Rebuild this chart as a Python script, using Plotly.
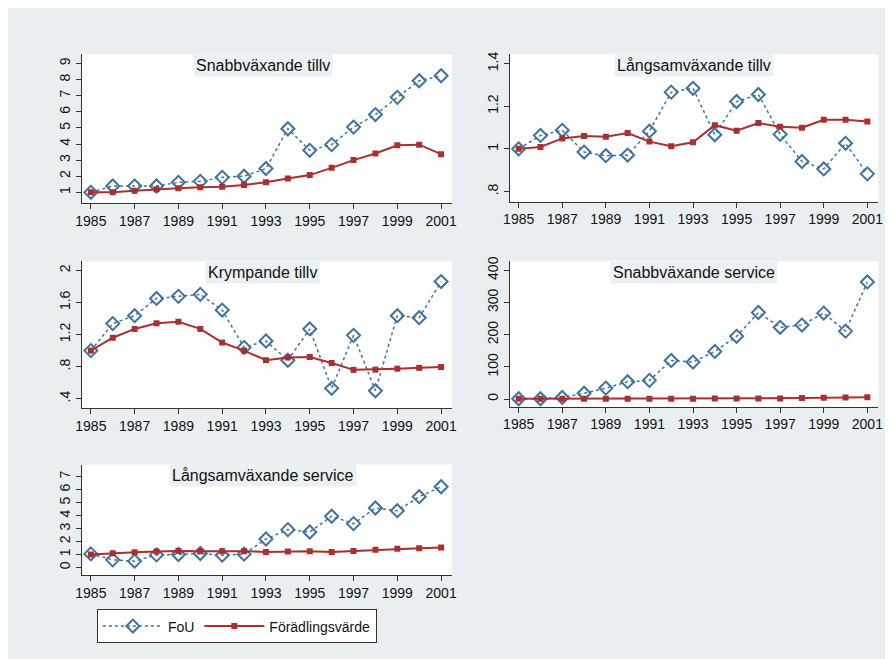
import plotly.graph_objects as go

W, H = 893, 659

years = list(range(1985, 2002))

# Snabbväxande tillv
snabb_tillv_fou = [1.0, 1.39, 1.39, 1.39, 1.62, 1.68, 1.93, 2.0, 2.48, 4.95, 3.61, 3.96, 5.05, 5.83, 6.9, 7.93, 8.24]
snabb_tillv_fv = [1.0, 1.0, 1.1, 1.19, 1.25, 1.31, 1.35, 1.45, 1.62, 1.86, 2.07, 2.52, 3.0, 3.41, 3.92, 3.96, 3.37]

# Långsamväxande tillv
lang_tillv_fou = [1.0, 1.063, 1.087, 0.985, 0.968, 0.971, 1.083, 1.266, 1.284, 1.066, 1.222, 1.255, 1.068, 0.941, 0.906, 1.026, 0.883]
lang_tillv_fv = [1.0, 1.009, 1.049, 1.06, 1.057, 1.074, 1.034, 1.012, 1.031, 1.111, 1.085, 1.121, 1.104, 1.099, 1.136, 1.136, 1.128]

# Krympande tillv
krymp_tillv_fou = [1.0, 1.336, 1.435, 1.65, 1.676, 1.70, 1.505, 1.04, 1.12, 0.88, 1.27, 0.53, 1.19, 0.50, 1.435, 1.41, 1.86]
krymp_tillv_fv = [1.0, 1.16, 1.27, 1.34, 1.36, 1.27, 1.10, 1.0, 0.88, 0.915, 0.92, 0.845, 0.76, 0.763, 0.775, 0.785, 0.795]

# Snabbväxande service
snabb_serv_fou = [1, 1, 5, 18, 34, 54, 58, 120, 115, 148, 195, 269, 223, 230, 267, 211, 364]
snabb_serv_fv = [1, 1, 1, 1, 1, 1, 1, 1, 1, 1.5, 1.5, 1.5, 2, 3, 4, 5, 6]

# Långsamväxande service
lang_serv_fou = [1.05, 0.59, 0.49, 0.97, 1.0, 1.08, 0.95, 1.03, 2.2, 2.92, 2.74, 3.95, 3.38, 4.59, 4.38, 5.46, 6.23]
lang_serv_fv = [1.0, 1.1, 1.18, 1.23, 1.28, 1.26, 1.26, 1.26, 1.2, 1.23, 1.26, 1.2, 1.28, 1.36, 1.44, 1.49, 1.54]

panels = [
    {'title': 'Snabbväxande tillv', 'fou': snabb_tillv_fou, 'fv': snabb_tillv_fv,
     'box': (68, 443, 41.7, 191.7), 'yr': [0.32, 9.57],
     'tv': [1, 2, 3, 4, 5, 6, 7, 8, 9], 'tt': ['1', '2', '3', '4', '5', '6', '7', '8', '9']},
    {'title': 'Långsamväxande tillv', 'fou': lang_tillv_fou, 'fv': lang_tillv_fv,
     'box': (501.7, 875, 41.7, 190), 'yr': [0.753, 1.443],
     'tv': [0.8, 1, 1.2, 1.4], 'tt': ['.8', '1', '1.2', '1.4']},
    {'title': 'Krympande tillv', 'fou': krymp_tillv_fou, 'fv': krymp_tillv_fv,
     'box': (68, 443, 250, 398), 'yr': [0.285, 2.115],
     'tv': [0.4, 0.8, 1.2, 1.6, 2], 'tt': ['.4', '.8', '1.2', '1.6', '2']},
    {'title': 'Snabbväxande service', 'fou': snabb_serv_fou, 'fv': snabb_serv_fv,
     'box': (501.7, 875, 250, 396.7), 'yr': [-23.7, 428.7],
     'tv': [0, 100, 200, 300, 400], 'tt': ['0', '100', '200', '300', '400']},
    {'title': 'Långsamväxande service', 'fou': lang_serv_fou, 'fv': lang_serv_fv,
     'box': (68, 443, 455, 566.7), 'yr': [-0.61, 7.94],
     'tv': [0, 1, 2, 3, 4, 5, 6, 7], 'tt': ['0', '1', '2', '3', '4', '5', '6', '7']},
]

BLUE = '#3f72a0'
RED = '#a8302f'
AXIS = '#333333'
FONT = 'Liberation Sans, Arial, sans-serif'

fig = go.Figure()
layout = {}
annotations = []

for i, p in enumerate(panels):
    n = '' if i == 0 else str(i + 1)
    x0, x1, y0, y1 = p['box']
    xd = [x0 / W, x1 / W]
    yd = [1 - y1 / H, 1 - y0 / H]
    fig.add_trace(go.Scatter(
        x=years, y=p['fou'], name='FoU', mode='lines+markers',
        line=dict(color=BLUE, width=1.5, dash='dot'),
        marker=dict(symbol='diamond-open', size=10, color=BLUE, line=dict(width=2)),
        xaxis='x' + n, yaxis='y' + n, showlegend=(i == 0), legendrank=1,
    ))
    fig.add_trace(go.Scatter(
        x=years, y=p['fv'], name='Förädlingsvärde', mode='lines+markers',
        line=dict(color=RED, width=2),
        marker=dict(symbol='square', size=6, color=RED),
        xaxis='x' + n, yaxis='y' + n, showlegend=(i == 0), legendrank=2,
    ))
    layout['xaxis' + n] = dict(
        domain=xd, anchor='y' + n, range=[1984.6, 2001.5],
        tickvals=list(range(1985, 2002, 2)), showgrid=False, zeroline=False,
        showline=True, linecolor=AXIS, linewidth=1, ticks='outside',
        ticklen=5, tickcolor=AXIS, tickfont=dict(size=14, color='#111111'),
    )
    layout['yaxis' + n] = dict(
        domain=yd, anchor='x' + n, range=p['yr'],
        tickvals=p['tv'], ticktext=p['tt'], tickangle=-90,
        showgrid=False, zeroline=False,
        showline=True, linecolor=AXIS, linewidth=1, ticks='outside',
        ticklen=5, tickcolor=AXIS, tickfont=dict(size=14, color='#111111'),
    )
    annotations.append(dict(
        text=p['title'], xref='paper', yref='paper',
        x=(x0 + x1) / 2 / W + (0.0 if i % 2 else -0.005), y=1 - (y0 + 11) / H,
        xanchor='center', yanchor='middle', showarrow=False,
        font=dict(size=16, color='#111111'), bgcolor='rgba(232,238,240,0.85)',
        borderpad=2,
    ))

fig.update_layout(
    width=W, height=H,
    margin=dict(l=0, r=0, t=0, b=0),
    paper_bgcolor='#e9eff1',
    plot_bgcolor='white',
    font=dict(family=FONT, color='#111111'),
    annotations=annotations,
    legend=dict(
        orientation='h', x=83 / W, y=1 - 601 / H, xanchor='left', yanchor='top',
        bgcolor='white', bordercolor='#333333', borderwidth=1,
        font=dict(size=14), itemwidth=60,
    ),
    **layout,
)

fig.write_html('out.html')
